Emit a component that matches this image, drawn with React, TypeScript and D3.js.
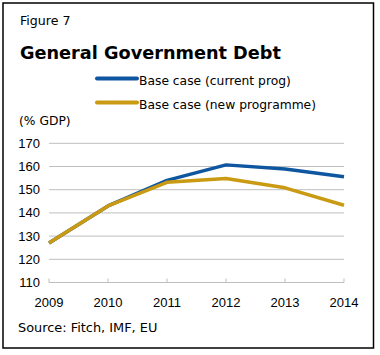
import React from "react";
import * as d3 from "d3";

const years = [2009, 2010, 2011, 2012, 2013, 2014];
const currentProg = [127, 143, 154, 160.7, 158.9, 155.6];
const newProgramme = [127, 143, 153.2, 154.8, 150.8, 143.3];
const yTicks = [110, 120, 130, 140, 150, 160, 170];
const seriesNames = ["Base case (current prog)", "Base case (new programme)"];
const seriesColors = ["#0F56A0", "#C99A12"];

const W = 380;
const H = 355;
const TEXT_FONT = "'DejaVu Sans', Verdana, sans-serif";
const NUM_FONT = "'Liberation Sans', Arial, sans-serif";

export default function App() {
  const x = d3.scaleLinear().domain([2009, 2014]).range([49, 344]);
  const y = d3.scaleLinear().domain([110, 170]).range([282.5, 143.3]);
  const line = d3
    .line<number>()
    .x((_, i) => x(years[i]))
    .y((d) => y(d));
  const series = [currentProg, newProgramme];

  return (
    <svg
      width={W}
      height={H}
      style={{ position: "absolute", left: 0, top: 0, background: "#fff" }}
      fontFamily={TEXT_FONT}
    >
      <rect x={0} y={0} width={W} height={H} fill="#fff" />
      <rect x={3} y={3} width={370.5} height={345} fill="none" stroke="#000" strokeWidth={1.5} />
      <text x={20} y={25} fontSize={12.6} fill="#000">Figure 7</text>
      <text x={20} y={59} fontSize={17.7} fontWeight="bold" fill="#000">General Government Debt</text>

      {seriesNames.map((name, i) => (
        <g key={name}>
          <line
            x1={97}
            x2={137}
            y1={78.5 + i * 24}
            y2={78.5 + i * 24}
            stroke={seriesColors[i]}
            strokeWidth={4}
            strokeLinecap="round"
          />
          <text x={139} y={85 + i * 24} fontSize={12.3} fill="#000">{name}</text>
        </g>
      ))}

      <text x={19} y={125} fontSize={12.3} fill="#000">(% GDP)</text>

      {yTicks.map((t) => (
        <g key={t}>
          {t !== 110 && (
            <line x1={49} x2={344} y1={y(t)} y2={y(t)} stroke="#BFBFBF" strokeWidth={1} />
          )}
          <text x={40} y={y(t)} dy="0.35em" fontSize={13} textAnchor="end" fill="#000" fontFamily={NUM_FONT}>
            {t}
          </text>
        </g>
      ))}

      <line x1={49} x2={344} y1={y(110)} y2={y(110)} stroke="#BFBFBF" strokeWidth={1} />
      {years.map((yr) => (
        <g key={yr}>
          <line x1={x(yr)} x2={x(yr)} y1={y(110)} y2={y(110) - 4} stroke="#BFBFBF" strokeWidth={1} />
          <text x={x(yr)} y={306.5} fontSize={13} textAnchor="middle" fill="#000" fontFamily={NUM_FONT}>
            {yr}
          </text>
        </g>
      ))}

      {series.map((s, i) => (
        <path
          key={i}
          d={line(s) || ""}
          fill="none"
          stroke={seriesColors[i]}
          strokeWidth={3.5}
          strokeLinejoin="round"
        />
      ))}

      <text x={18} y={331.5} fontSize={12.9} fill="#000">Source: Fitch, IMF, EU</text>
    </svg>
  );
}
